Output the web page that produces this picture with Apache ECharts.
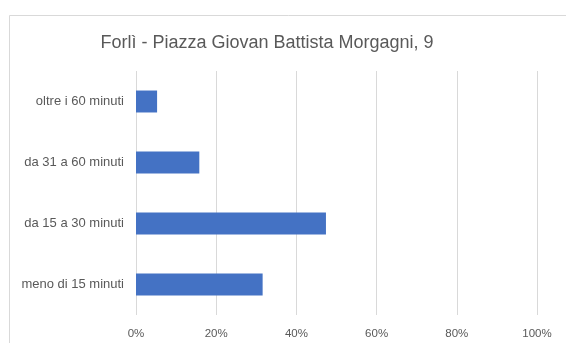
<!DOCTYPE html>
<html>
<head>
<meta charset="utf-8">
<script src="https://cdn.jsdelivr.net/npm/echarts@6/dist/echarts.min.js"></script>
<style>html,body{margin:0;padding:0;background:#fff;}#c{width:566px;height:343px;}</style>
</head>
<body>
<div id="c"></div>
<script>
const titleText = "Forlì - Piazza Giovan Battista Morgagni, 9";
const categories = ["meno di 15 minuti", "da 15 a 30 minuti", "da 31 a 60 minuti", "oltre i 60 minuti"];
const values = [0.3158, 0.4737, 0.1579, 0.0526];
const tickMin = 0, tickMax = 1, tickStep = 0.2;

const chart = echarts.init(document.getElementById('c'), null, {renderer: 'canvas'});
chart.setOption({
  animation: false,
  backgroundColor: '#ffffff',
  graphic: [{
    type: 'rect', left: 7, top: 13, shape: {width: 570, height: 340},
    style: {fill: 'none', stroke: '#d9d9d9', lineWidth: 1}, silent: true
  }, {
    type: 'text', x: 267, y: 43,
    style: {text: titleText, textAlign: 'center', textVerticalAlign: 'middle',
      font: '18px "Liberation Sans"', fill: '#595959'}, silent: true
  }],
  grid: {left: 136, right: 29, top: 71, bottom: 28, containLabel: false},
  xAxis: {
    type: 'value', min: tickMin, max: tickMax, interval: tickStep,
    axisLine: {show: false}, axisTick: {show: false},
    splitLine: {show: true, lineStyle: {color: '#d9d9d9', width: 1}},
    axisLabel: {
      formatter: v => Math.round(v * 100) + '%', margin: 13,
      fontFamily: 'Liberation Sans', fontSize: 11.5, color: '#595959'
    }
  },
  yAxis: {
    type: 'category', data: categories,
    axisLine: {show: false}, axisTick: {show: false},
    axisLabel: {margin: 12, fontFamily: 'Liberation Sans', fontSize: 13, color: '#595959'}
  },
  series: [{
    type: 'bar', data: values, barWidth: '36%',
    itemStyle: {color: '#4472c4'}
  }]
});
</script>
</body>
</html>
